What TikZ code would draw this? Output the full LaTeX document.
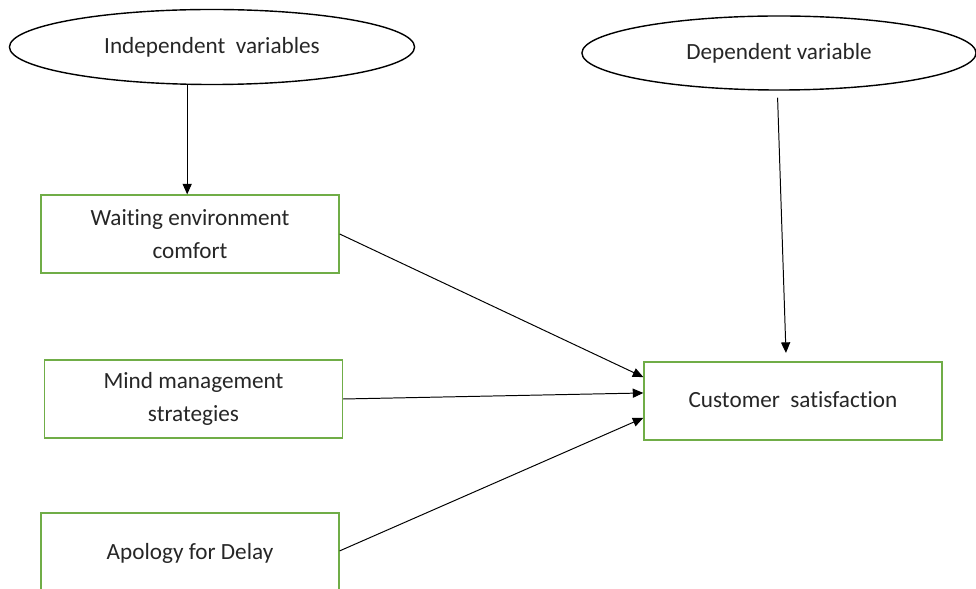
\documentclass[tikz,border=0pt]{standalone}
\usepackage{fontspec}
\setmainfont{Carlito}[Ligatures=NoCommon]
\usepackage{tikz}
\usetikzlibrary{positioning, arrows.meta, shapes.geometric}
\definecolor{boxgreen}{HTML}{70AD47}
\definecolor{textgray}{HTML}{262626}

\begin{document}
\begin{tikzpicture}[x=0.025cm, y=-0.025cm,
  font=\fontsize{16.5}{24}\selectfont, text=textgray,
  varoval/.style={draw, ellipse, line width=1pt, inner sep=0pt},
  factorbox/.style={draw=boxgreen, line width=0.9pt, minimum width=7.45cm, minimum height=1.95cm, align=center},
  link/.style={-{Triangle[length=7.5pt, width=6.5pt]}, line width=0.7pt}]
  \useasboundingbox (0,0) rectangle (976,589);
  \clip (0,0) rectangle (976,589);
  % the two variable groups
  \node[varoval, minimum width=10.125cm, minimum height=1.875cm] (indep) at (212,47) {Independent\ \ variables};
  \node[varoval, minimum width=9.85cm, minimum height=1.85cm] (dep) at (779,53) {Dependent variable};
  % factors and outcome
  \node[factorbox] (waiting) at (190,234) {Waiting environment\\comfort};
  \node[factorbox] (mind) at (193.5,399) {Mind management\\strategies};
  \node[factorbox, minimum height=2cm] (apology) at (190,553) {\raisebox{2pt}{Apology for Delay}};
  \node[factorbox] (satisf) at (793,401) {\raisebox{2pt}{Customer\ \ satisfaction}};
  \draw[link] ([xshift=-2pt]waiting.north |- indep.south) -- ([xshift=-2pt]waiting.north);
  \draw[link] ([xshift=-1pt, yshift=-5pt]dep.south) -- ([xshift=-5pt, yshift=6pt]satisf.north);
  \draw[link] (waiting.east) -- ([yshift=17pt]satisf.west);
  \draw[link] (mind.east) -- ([yshift=5.7pt]satisf.west);
  \draw[link] ([yshift=1.5pt]apology.east) -- ([yshift=-12pt]satisf.west);
\end{tikzpicture}
\end{document}
